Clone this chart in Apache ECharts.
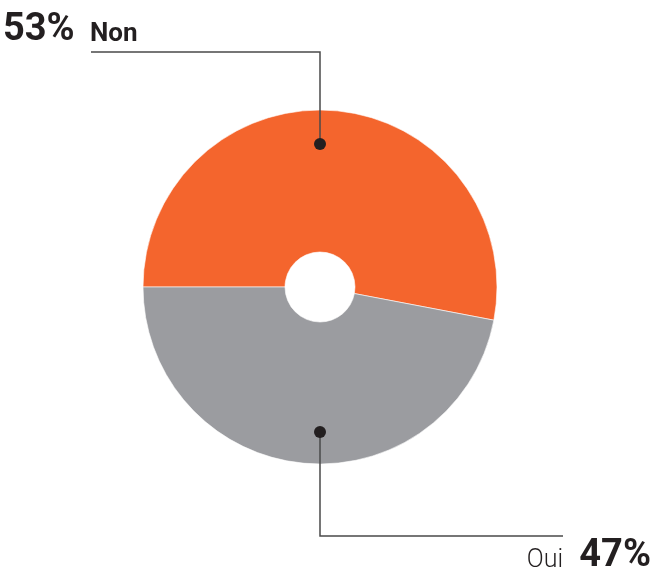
<!DOCTYPE html>
<html>
<head>
<meta charset="utf-8">
<script src="https://cdn.jsdelivr.net/npm/echarts@6/dist/echarts.min.js"></script>
<style>
  html, body { margin: 0; padding: 0; background: #fff; }
  #chart { width: 653px; height: 577px; }
</style>
</head>
<body>
<div id="chart"></div>
<script>
// Survey answers
const categories = ['Non', 'Oui'];
const shares = [53, 47];
const colors = ['#F4652D', '#9B9CA0'];

const chart = echarts.init(document.getElementById('chart'), null, { renderer: 'canvas' });

const cx = 320, cy = 287, rOuter = 177, rInner = 35;
const lineColor = '#4a4a4a';
const dotColor = '#231F20';
const font = 'Roboto, "Liberation Sans", sans-serif';

chart.setOption({
  animation: false,
  series: [{
    type: 'pie',
    z: 1,
    center: [cx, cy],
    radius: [rInner, rOuter],
    startAngle: 180,
    clockwise: true,
    label: { show: false },
    labelLine: { show: false },
    itemStyle: { borderColor: '#fff', borderWidth: 0.6 },
    data: categories.map((name, i) => ({
      name, value: shares[i], itemStyle: { color: colors[i] }
    }))
  }],
  graphic: {
    elements: [
      // callout for the first slice (top)
      { type: 'polyline', z: 100, shape: { points: [[cx, cy - 143], [cx, 52], [91, 52]] },
        style: { stroke: lineColor, lineWidth: 1.5, fill: null } },
      { type: 'circle', z: 101, shape: { cx: cx, cy: cy - 143, r: 6 }, style: { fill: dotColor } },
      { type: 'text', z: 100, x: 3, y: 49,
        style: { text: shares[0] + '%', font: 'bold 38px ' + font, fill: '#231F20',
                 verticalAlign: 'bottom' } },
      { type: 'text', z: 100, x: 90, y: 47,
        style: { text: categories[0], font: 'bold 26px ' + font, fill: '#231F20',
                 verticalAlign: 'bottom' } },
      // callout for the second slice (bottom)
      { type: 'polyline', z: 100, shape: { points: [[cx, cy + 145], [cx, 536], [563, 536]] },
        style: { stroke: lineColor, lineWidth: 1.5, fill: null } },
      { type: 'circle', z: 101, shape: { cx: cx, cy: cy + 145, r: 6 }, style: { fill: dotColor } },
      { type: 'text', z: 100, x: 563, y: 573,
        style: { text: categories[1], font: '300 25px ' + font, fill: '#231F20',
                 align: 'right', verticalAlign: 'bottom' } },
      { type: 'text', z: 100, x: 651, y: 575,
        style: { text: shares[1] + '%', font: 'bold 38px ' + font, fill: '#231F20',
                 align: 'right', verticalAlign: 'bottom' } }
    ]
  }
});
</script>
</body>
</html>
